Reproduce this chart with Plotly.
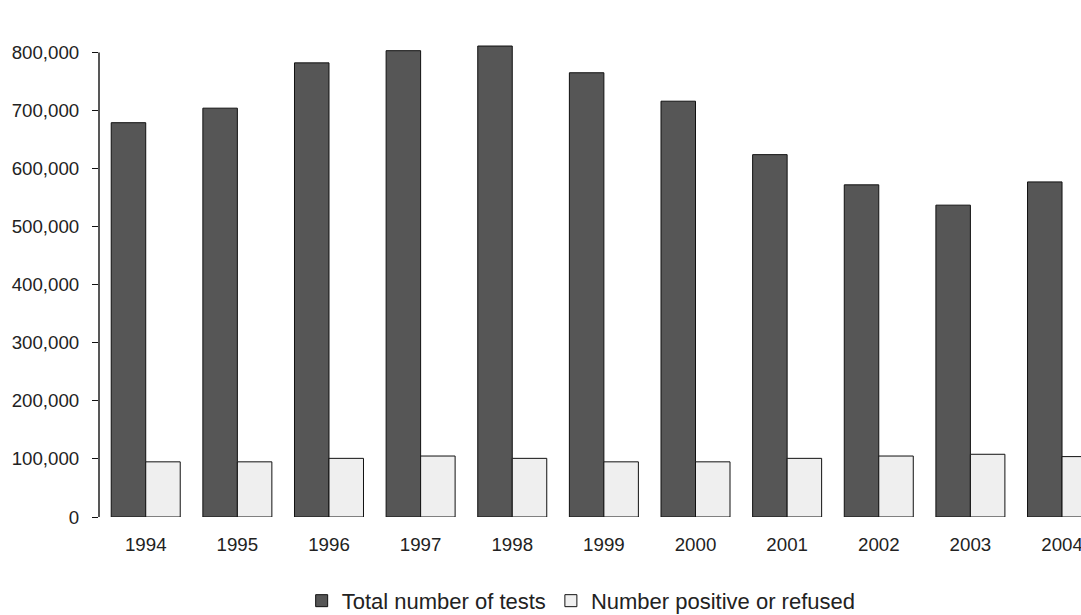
import plotly.graph_objects as go

years = ["1994", "1995", "1996", "1997", "1998", "1999", "2000", "2001", "2002", "2003", "2004"]
total_tests = [679000, 704000, 782000, 803000, 811000, 765000, 716000, 624000, 572000, 537000, 577000]
positive_refused = [95000, 95000, 101000, 105000, 101000, 95000, 95000, 101000, 105000, 108000, 104000]
y_ticks = [0, 100000, 200000, 300000, 400000, 500000, 600000, 700000, 800000]

FONT = "Liberation Sans, Arial, sans-serif"

fig = go.Figure()
fig.add_trace(go.Bar(x=years, y=total_tests, name="Total number of tests",
                     marker=dict(color="#565656", line=dict(color="#111111", width=1))))
fig.add_trace(go.Bar(x=years, y=positive_refused, name="Number positive or refused",
                     marker=dict(color="#efefef", line=dict(color="#111111", width=1))))

# y axis line only spans the tick range
fig.add_shape(type="line", xref="paper", yref="y", x0=0, x1=0, y0=0, y1=max(y_ticks),
              line=dict(color="#111111", width=1.4))

fig.update_layout(
    width=1081, height=615,
    margin=dict(l=99, r=0, t=35, b=98, autoexpand=False),
    paper_bgcolor="white", plot_bgcolor="white",
    barmode="group", bargap=0.247, bargroupgap=0,
    font=dict(family=FONT, color="#222222"),
    showlegend=True,
    legend=dict(orientation="h", x=0.491, xanchor="center", y=-0.174, yanchor="middle",
                font=dict(size=22, family=FONT, color="#222222"), traceorder="normal"),
    xaxis=dict(type="category", range=[-0.51, 10.207], showline=False, ticks="",
               showgrid=False, zeroline=False, tickfont=dict(size=18.7, family=FONT, color="#222222"),
               ticklabelstandoff=14),
    yaxis=dict(range=[0, 830000], tickvals=y_ticks, tickformat=",", showline=False,
               ticks="outside", ticklen=6, tickwidth=1.2, tickcolor="#111111",
               showgrid=False, zeroline=False, ticklabelstandoff=9,
               tickfont=dict(size=18.7, family=FONT, color="#222222")),
)

fig.write_html("out.html")
